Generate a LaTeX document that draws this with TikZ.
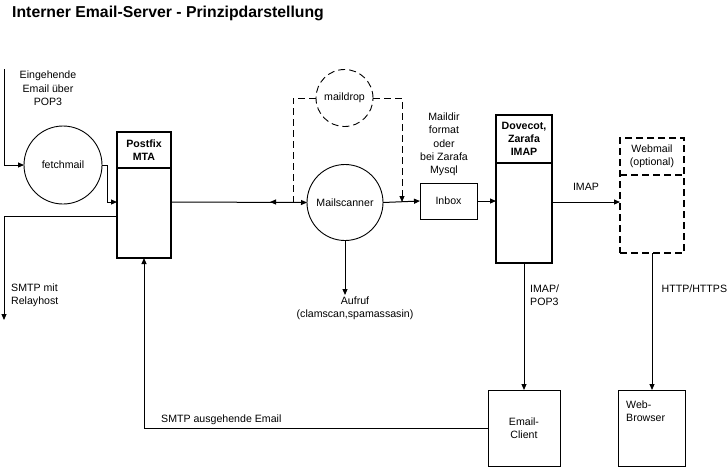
\documentclass[tikz,border=0pt]{standalone}
\usepackage{fontspec}
\setmainfont{Liberation Sans}
\usetikzlibrary{arrows.meta,calc}
\tikzset{
  lbl/.style={font=\fontsize{10.6}{13.3}\selectfont, inner sep=0pt, align=center},
  lbll/.style={lbl, align=left, anchor=west},
  hdr/.style={font=\bfseries\fontsize{10.6}{13.3}\selectfont, inner sep=0pt, align=center},
  bigbox/.style={draw, line width=1.8pt, inner sep=0pt, outer sep=0pt},
  smallbox/.style={draw, line width=1pt, inner sep=0pt, outer sep=0pt},
  dpat/.style={dash pattern=on 7pt off 4pt},
  dbox/.style={draw, line width=1.3pt, dpat, inner sep=0pt, outer sep=0pt},
  circ/.style={draw, circle, line width=0.9pt, inner sep=0pt, outer sep=0pt},
  conn/.style={line width=1pt, -{Triangle[length=6pt,width=5pt]}},
  dconn/.style={line width=1pt, dpat},
}
\begin{document}
\begin{tikzpicture}[x=1pt,y=-1pt]
\useasboundingbox (0,0) rectangle (728,467);
% title
\node[font=\bfseries\fontsize{15.8}{18}\selectfont, anchor=base west, inner sep=0pt] (title) at (12,17.5) {Interner Email-Server - Prinzipdarstellung};

% nodes
\node[circ, minimum size=78pt, lbl] (fetch) at (63,165) {fetchmail};
\node[bigbox, minimum width=54pt, minimum height=126pt] (postfix) at (144,195) {};
\node[circ, dpat, minimum size=57pt, lbl] (maildrop) at (344.5,98) {maildrop};
\node[circ, minimum size=76pt, lbl] (scanner) at (345,202.5) {Mailscanner};
\node[smallbox, minimum width=57pt, minimum height=36pt, lbl] (inbox) at (448.5,201) {Inbox};
\node[bigbox, minimum width=56pt, minimum height=148pt] (dovecot) at (524,189) {};
\node[dbox, minimum width=64pt, minimum height=115pt] (webmail) at (652,195.5) {};
\node[smallbox, minimum width=72pt, minimum height=76pt, lbl] (client) at (524,428) {Email-\\Client};
\node[smallbox, minimum width=67pt, minimum height=76pt] (browser) at (651.5,428) {};

% header dividers and texts
\path (postfix.north west) ++(0,36) coordinate (pd);
\draw[line width=1.8pt] (pd) -- (pd -| postfix.east);
\node[hdr] (postfixhdr) at (144,150.5) {Postfix\\MTA};
\path (dovecot.north west) ++(0,48) coordinate (dd);
\draw[line width=1.8pt] (dd) -- (dd -| dovecot.east);
\node[hdr] (dovecothdr) at (524,139) {Dovecot,\\Zarafa\\IMAP};
\path (webmail.north west) ++(0,37) coordinate (wd);
\draw[line width=1.3pt, dpat] (wd) -- (wd -| webmail.east);
\node[lbl] (webmailhdr) at (652,156.5) {Webmail\\(optional)};
\node[lbll] (browsertxt) at (626,411) {Web-\\Browser};

% free labels
\node[lbl] (eingehend) at (48,88.5) {Eingehende\\Email über\\POP3};
\node[lbl] (maildir) at (444,144.5) {Maildir\\format\\oder\\bei Zarafa\\Mysql};
\node[lbl] (imaplbl) at (586,187) {IMAP};
\node[lbll] (smtpmit) at (11,295.5) {SMTP mit\\Relayhost};
\node[lbl] (aufruf) at (355,308) {Aufruf\\(clamscan,spamassasin)};
\node[lbll] (imappop) at (530,295.5) {IMAP/\\POP3};
\node[lbll] (http) at (661.5,289) {HTTP/HTTPS};
\node[lbll] (smtpaus) at (161,420) {SMTP ausgehende Email};

% coordinates
\coordinate (inTop) at (4,69);
\coordinate (relayEnd) at (4,320);
\coordinate (aufrufEnd) at (345,295);
\coordinate (mdL) at (293,202);
\coordinate (mdR) at (402,202);
\coordinate (backTip) at (270,202);

% connectors
\draw[conn] (inTop) -- (4,165) -- (fetch.west);
\draw[conn] (fetch.east) -- (107,165) -- (107,202) -- (postfix.west |- 0,202);
\draw[conn] (postfix.east |- 0,202) -- (scanner.west);
\draw[conn] (mdL) -- (backTip);
\draw[dconn] (maildrop.west) -- (mdL |- maildrop.west) -- (mdL);
\draw[dconn, -{Triangle[length=6pt,width=5pt]}] (maildrop.east) -- (mdR |- maildrop.east) -- (mdR);
\draw[conn] (scanner.east) -- (inbox.west);
\draw[conn] (inbox.east) -- (dovecot.west |- inbox.east);
\draw[conn] (scanner.south) -- (aufrufEnd);
\draw[conn] (postfix.west |- 0,216) -- (4,216) -- (relayEnd);
\draw[conn] (dovecot.east |- 0,202) -- (webmail.west |- 0,202);
\draw[conn] (dovecot.south) -- (client.north);
\draw[conn] (webmail.south) -- (webmail.south |- browser.north);
\draw[conn] (client.west) -- (144,428) -- (postfix.south);
\end{tikzpicture}
\end{document}
